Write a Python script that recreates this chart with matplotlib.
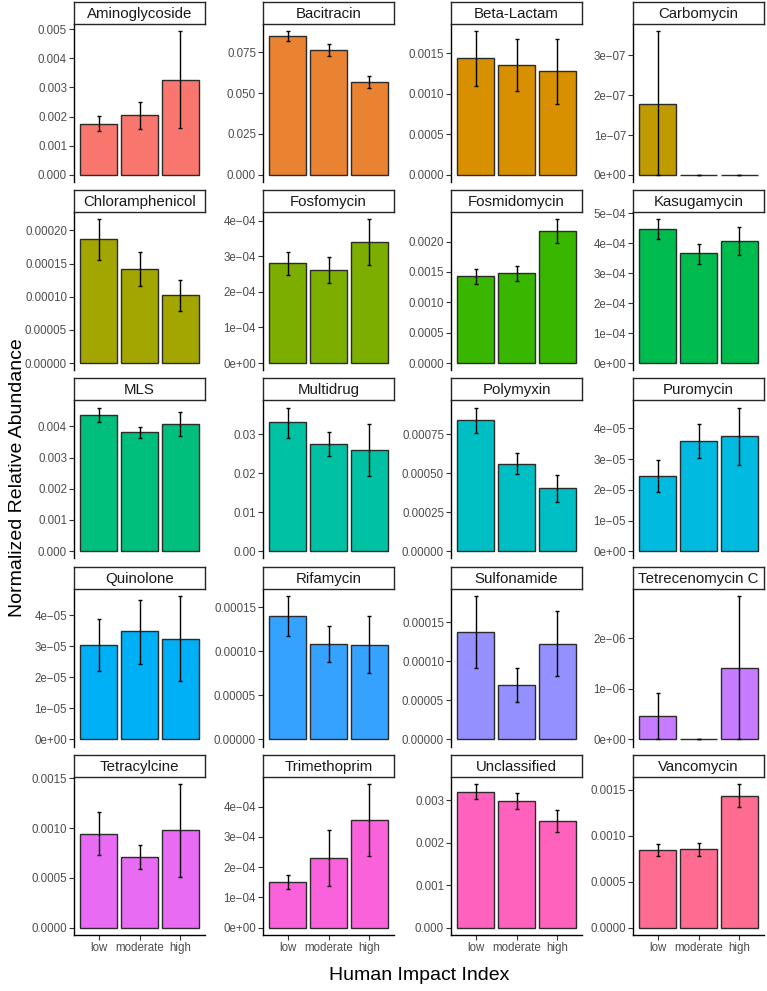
import matplotlib
matplotlib.use("Agg")
import matplotlib.pyplot as plt
import numpy as np

plt.rcParams['font.family'] = ['Liberation Sans', 'DejaVu Sans']

groups = ["low", "moderate", "high"]

classes = ["Aminoglycoside", "Bacitracin", "Beta-Lactam", "Carbomycin",
           "Chloramphenicol", "Fosfomycin", "Fosmidomycin", "Kasugamycin",
           "MLS", "Multidrug", "Polymyxin", "Puromycin",
           "Quinolone", "Rifamycin", "Sulfonamide", "Tetrecenomycin C",
           "Tetracylcine", "Trimethoprim", "Unclassified", "Vancomycin"]

# ggplot default hue palette, 20 levels
colors = ["#F8766D", "#EA8331", "#D89000", "#C09B00", "#A3A500", "#7CAE00",
          "#39B600", "#00BB4E", "#00BF7D", "#00C1A3", "#00BFC4", "#00BAE0",
          "#00B0F6", "#35A2FF", "#9590FF", "#C77CFF", "#E76BF3", "#FA62DB",
          "#FF62BC", "#FF6C91"]

# mean abundance for low / moderate / high
means = [
    [0.00176, 0.00204, 0.00327],
    [0.0848, 0.0764, 0.0566],
    [0.001434, 0.00135, 0.00128],
    [1.79e-7, 0.0, 0.0],
    [0.0001865, 0.0001424, 0.0001018],
    [2.80e-4, 2.63e-4, 3.40e-4],
    [0.00143, 0.001485, 0.00217],
    [4.47e-4, 3.66e-4, 4.08e-4],
    [0.004372, 0.00382, 0.004085],
    [0.0330, 0.0275, 0.0259],
    [0.00084, 0.000562, 0.000404],
    [2.45e-5, 3.60e-5, 3.75e-5],
    [3.05e-5, 3.48e-5, 3.25e-5],
    [0.000140, 0.000108, 0.0001073],
    [0.0001377, 0.0000699, 0.0001223],
    [4.6e-7, 0.0, 1.416e-6],
    [0.000943, 0.000710, 0.000977],
    [1.50e-4, 2.30e-4, 3.55e-4],
    [0.00320, 0.00298, 0.00251],
    [0.000842, 0.000850, 0.001432],
]

# error bar lower ends
lows = [
    [0.00150, 0.00158, 0.00162],
    [0.0817, 0.0727, 0.0530],
    [0.00110, 0.00103, 0.000877],
    [0.0, 0.0, 0.0],
    [0.0001559, 0.0001168, 0.0000787],
    [2.48e-4, 2.26e-4, 2.76e-4],
    [0.00131, 0.001359, 0.001978],
    [4.13e-4, 3.31e-4, 3.61e-4],
    [0.00414, 0.00364, 0.00370],
    [0.0291, 0.0244, 0.0192],
    [0.000758, 0.000498, 0.000316],
    [1.94e-5, 3.04e-5, 2.82e-5],
    [2.21e-5, 2.43e-5, 1.88e-5],
    [0.000117, 0.0000878, 0.0000754],
    [0.0000912, 0.0000477, 0.0000810],
    [0.0, 0.0, 0.0],
    [0.000727, 0.000587, 0.000510],
    [1.27e-4, 1.37e-4, 2.36e-4],
    [0.00302, 0.00280, 0.00226],
    [0.000774, 0.000777, 0.001309],
]

# error bar upper ends
highs = [
    [0.00203, 0.00249, 0.00493],
    [0.0878, 0.0799, 0.0601],
    [0.00177, 0.00167, 0.00167],
    [3.61e-7, 0.0, 0.0],
    [0.0002165, 0.000168, 0.0001253],
    [3.12e-4, 2.99e-4, 4.04e-4],
    [0.001545, 0.001605, 0.002367],
    [4.79e-4, 3.98e-4, 4.53e-4],
    [0.00460, 0.00397, 0.00445],
    [0.0368, 0.0306, 0.0326],
    [0.000921, 0.000628, 0.000490],
    [2.97e-5, 4.15e-5, 4.68e-5],
    [3.89e-5, 4.51e-5, 4.63e-5],
    [0.0001628, 0.000129, 0.0001395],
    [0.000184, 0.0000921, 0.0001645],
    [9.2e-7, 0.0, 2.84e-6],
    [0.001163, 0.000833, 0.001443],
    [1.73e-4, 3.23e-4, 4.75e-4],
    [0.00338, 0.00317, 0.00276],
    [0.000907, 0.000915, 0.001562],
]

M = "\u2212"
tick_labels = [
    ["0.000", "0.001", "0.002", "0.003", "0.004", "0.005"],
    ["0.000", "0.025", "0.050", "0.075"],
    ["0.0000", "0.0005", "0.0010", "0.0015"],
    ["0e+00", "1e" + M + "07", "2e" + M + "07", "3e" + M + "07"],
    ["0.00000", "0.00005", "0.00010", "0.00015", "0.00020"],
    ["0e+00", "1e" + M + "04", "2e" + M + "04", "3e" + M + "04", "4e" + M + "04"],
    ["0.0000", "0.0005", "0.0010", "0.0015", "0.0020"],
    ["0e+00", "1e" + M + "04", "2e" + M + "04", "3e" + M + "04", "4e" + M + "04", "5e" + M + "04"],
    ["0.000", "0.001", "0.002", "0.003", "0.004"],
    ["0.00", "0.01", "0.02", "0.03"],
    ["0.00000", "0.00025", "0.00050", "0.00075"],
    ["0e+00", "1e" + M + "05", "2e" + M + "05", "3e" + M + "05", "4e" + M + "05"],
    ["0e+00", "1e" + M + "05", "2e" + M + "05", "3e" + M + "05", "4e" + M + "05"],
    ["0.00000", "0.00005", "0.00010", "0.00015"],
    ["0.00000", "0.00005", "0.00010", "0.00015"],
    ["0e+00", "1e" + M + "06", "2e" + M + "06"],
    ["0.0000", "0.0005", "0.0010", "0.0015"],
    ["0e+00", "1e" + M + "04", "2e" + M + "04", "3e" + M + "04", "4e" + M + "04"],
    ["0.000", "0.001", "0.002", "0.003"],
    ["0.0000", "0.0005", "0.0010", "0.0015"],
]

W, H = 767, 991
fig = plt.figure(figsize=(W / 100, H / 100), dpi=100)

col_left = [74, 263, 451, 633]
panel_w = 131
panel_h = 158
strip_h = 22
row_pitch = 188.2
first_top = 24

x = np.arange(len(groups))
for i, name in enumerate(classes):
    r, c = divmod(i, 4)
    top = first_top + r * row_pitch
    ax = fig.add_axes([col_left[c] / W, 1 - (top + panel_h) / H, panel_w / W, panel_h / H])
    m = np.array(means[i])
    lo = np.array(lows[i])
    hi = np.array(highs[i])
    ax.bar(x, m, width=0.9, color=colors[i], edgecolor="#2B2B2B", linewidth=1.0, zorder=2)
    ax.errorbar(x, m, yerr=[m - lo, hi - m], fmt="none", ecolor="black",
                elinewidth=1.0, capsize=1.6, capthick=1.0, zorder=3)
    top_val = max(m.max(), hi.max())
    ax.set_ylim(-0.05 * top_val, 1.05 * top_val)
    ax.set_xlim(-0.6, 2.6)
    ticks = [float(t.replace(M, "-")) for t in tick_labels[i]]
    ax.set_yticks(ticks)
    ax.set_yticklabels(tick_labels[i])
    ax.tick_params(axis="y", labelsize=8.3, labelcolor="#4D4D4D", color="#333333",
                   length=3.5, width=0.8, pad=1.5)
    for s in ["top", "right"]:
        ax.spines[s].set_visible(False)
    ax.spines["left"].set_linewidth(1.0)
    if r == 4:
        ax.set_xticks(x)
        ax.set_xticklabels(groups)
        ax.tick_params(axis="x", labelsize=8.3, labelcolor="#4D4D4D", color="#333333",
                       length=3.5, width=0.8, pad=2)
        ax.spines["bottom"].set_linewidth(1.0)
    else:
        ax.set_xticks([])
        ax.spines["bottom"].set_visible(False)

    sax = fig.add_axes([col_left[c] / W, 1 - top / H, panel_w / W, strip_h / H])
    sax.set_xticks([])
    sax.set_yticks([])
    for s in sax.spines.values():
        s.set_linewidth(1.0)
        s.set_color("#262626")
    sax.text(0.5, 0.45, name, ha="center", va="center", fontsize=10.8, color="#1A1A1A",
             transform=sax.transAxes)

fig.text(18 / W, 1 - 478 / H, "Normalized Relative Abundance", rotation=90,
         ha="center", va="center", fontsize=14)
fig.text(419 / W, 1 - 975 / H, "Human Impact Index", ha="center", va="center", fontsize=14)

fig.savefig("out.png", dpi=100)
